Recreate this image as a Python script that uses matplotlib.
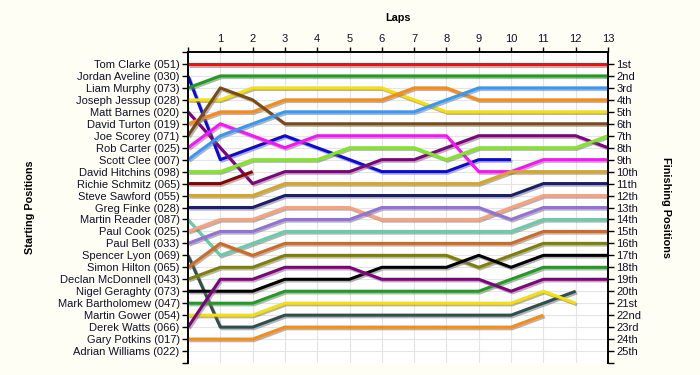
import matplotlib
matplotlib.use("Agg")
import matplotlib.pyplot as plt
import matplotlib.patheffects as pe

# pilotos na ordem de largada
drivers = [
    "Tom Clarke (051)", "Jordan Aveline (030)", "Liam Murphy (073)",
    "Joseph Jessup (028)", "Matt Barnes (020)", "David Turton (019)",
    "Joe Scorey (071)", "Rob Carter (025)", "Scott Clee (007)",
    "David Hitchins (098)", "Richie Schmitz (065)", "Steve Sawford (055)",
    "Greg Finke (028)", "Martin Reader (087)", "Paul Cook (025)",
    "Paul Bell (033)", "Spencer Lyon (069)", "Simon Hilton (065)",
    "Declan McDonnell (043)", "Nigel Geraghty (073)", "Mark Bartholomew (047)",
    "Martin Gower (054)", "Derek Watts (066)", "Gary Potkins (017)",
    "Adrian Williams (022)",
]

colors = [
    "#EE1111", "#0A0ADC", "#1E9E1E", "#F8E000", "#800080", "#FF8A10",
    "#7A4A14", "#FF10FF", "#3399FF", "#80E81E", "#8B0000", "#DAA520",
    "#1C1C70", "#66CDAA", "#FFA07A", "#9370DB", "#2F4F4F", "#D2691E",
    "#808000", "#000000", "#1E9E1E", "#F8E000", "#800080", "#FF8A10",
    "#999999",
]

# posição em cada volta (volta 0 = largada)
positions = [
    [1, 1, 1, 1, 1, 1, 1, 1, 1, 1, 1, 1, 1, 1],
    [2, 9, 8, 7, 8, 9, 10, 10, 10, 9, 9],
    [3, 2, 2, 2, 2, 2, 2, 2, 2, 2, 2, 2, 2, 2],
    [4, 4, 3, 3, 3, 3, 3, 4, 5, 5, 5, 5, 5, 5],
    [5, 8, 11, 10, 10, 10, 9, 9, 8, 7, 7, 7, 7, 8],
    [6, 5, 5, 4, 4, 4, 4, 3, 3, 4, 4, 4, 4, 4],
    [7, 3, 4, 6, 6, 6, 6, 6, 6, 6, 6, 6, 6, 6],
    [8, 6, 7, 8, 7, 7, 7, 7, 7, 10, 10, 9, 9, 9],
    [9, 7, 6, 5, 5, 5, 5, 5, 4, 3, 3, 3, 3, 3],
    [10, 10, 9, 9, 9, 8, 8, 8, 9, 8, 8, 8, 8, 7],
    [11, 11, 10],
    [12, 12, 12, 11, 11, 11, 11, 11, 11, 11, 10, 10, 10, 10],
    [13, 13, 13, 12, 12, 12, 12, 12, 12, 12, 12, 11, 11, 11],
    [14, 17, 16, 15, 15, 15, 15, 15, 15, 15, 15, 14, 14, 14],
    [15, 14, 14, 13, 13, 13, 14, 14, 14, 14, 13, 12, 12, 12],
    [16, 15, 15, 14, 14, 14, 13, 13, 13, 13, 14, 13, 13, 13],
    [17, 23, 23, 22, 22, 22, 22, 22, 22, 22, 22, 21, 20],
    [18, 16, 17, 16, 16, 16, 16, 16, 16, 16, 16, 15, 15, 15],
    [19, 18, 18, 17, 17, 17, 17, 17, 17, 18, 17, 16, 16, 16],
    [20, 20, 20, 19, 19, 19, 18, 18, 18, 17, 18, 17, 17, 17],
    [21, 21, 21, 20, 20, 20, 20, 20, 20, 20, 19, 18, 18, 18],
    [22, 22, 22, 21, 21, 21, 21, 21, 21, 21, 21, 20, 21],
    [23, 19, 19, 18, 18, 18, 19, 19, 19, 19, 20, 19, 19, 19],
    [24, 24, 24, 23, 23, 23, 23, 23, 23, 23, 23, 22],
    [],
]

n_laps = 13
finish_labels = ["1st", "2nd", "3rd"] + [f"{i}th" for i in range(4, 21)] + \
    ["21st", "22nd", "23rd", "24th", "25th"]

plt.rcParams["font.family"] = ["Liberation Sans", "DejaVu Sans"]
text_color = "#10102a"

fig = plt.figure(figsize=(7, 3.75), dpi=100)
fig.patch.set_facecolor("#FEFEF5")
ax = fig.add_axes([188 / 700, 12 / 375, 420 / 700, 311 / 375])
ax.set_facecolor("white")

n = len(drivers)
ax.set_xlim(0, n_laps)
ax.set_ylim(n + 1, 0)

# grade
for x in range(1, n_laps):
    ax.axvline(x, color="#E4E4E4", lw=0.8, zorder=0)
for y in range(1, n + 1):
    ax.axhline(y, color="#E4E4E4", lw=0.8, zorder=0)

for i, pos in enumerate(positions):
    if not pos:
        continue
    ax.plot(
        range(len(pos)), pos,
        color=colors[i], lw=2.2, solid_capstyle="butt", zorder=3,
        path_effects=[
            pe.SimpleLineShadow(offset=(1, -1.2), shadow_color="#777777", alpha=0.55),
            pe.Normal(),
        ],
    )

# eixo de voltas no topo
ax.xaxis.tick_top()
ax.set_xticks(range(0, n_laps + 1))
ax.set_xticklabels([""] + [str(i) for i in range(1, n_laps + 1)])
ax.tick_params(axis="x", length=3.5, width=1, pad=2, labelsize=8,
               labelcolor=text_color)

ax.set_yticks(range(0, n + 2))
ax.set_yticklabels([""] + drivers + [""])
ax.tick_params(axis="y", length=4, width=1, pad=2, labelsize=8,
               labelcolor=text_color)

ax2 = ax.twinx()
ax2.set_ylim(n + 1, 0)
ax2.set_yticks(range(1, n + 2))
ax2.set_yticklabels(finish_labels + [""])
ax2.tick_params(axis="y", length=4, width=1, pad=2, labelsize=8,
                labelcolor=text_color)

for a in (ax, ax2):
    a.spines["bottom"].set_visible(False)
    for s in ("top", "left", "right"):
        a.spines[s].set_linewidth(1.2)

fig.text(398 / 700, 1 - 18 / 375, "Laps", ha="center", va="center",
         fontsize=7.8, fontweight="bold")
fig.text(30 / 700, 1 - 207 / 375, "Starting Positions", ha="center",
         va="center", rotation=90, fontsize=7.8, fontweight="bold")
fig.text(666 / 700, 1 - 207 / 375, "Finishing Positions", ha="center",
         va="center", rotation=270, fontsize=7.8, fontweight="bold")

fig.savefig("out.png", dpi=100, facecolor=fig.get_facecolor())
